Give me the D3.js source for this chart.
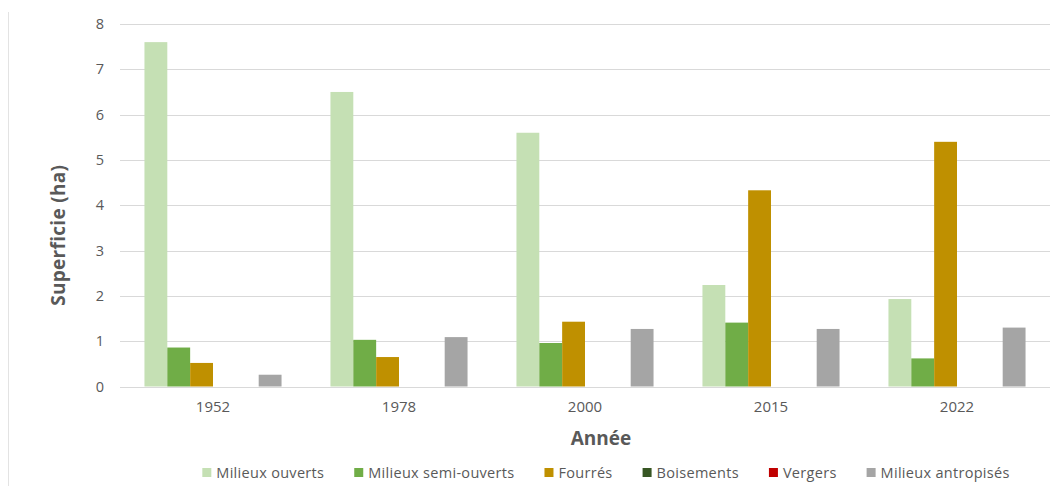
<!DOCTYPE html>
<html>
<head>
<meta charset="utf-8">
<script src="https://cdn.jsdelivr.net/npm/d3@7"></script>
<style>
  html, body { margin: 0; padding: 0; background: #ffffff; }
  svg { display: block; font-family: "Open Sans", "Noto Sans", sans-serif; }
</style>
</head>
<body>
<svg id="chart" width="1053" height="486"></svg>
<script>
// Surface (ha) of each habitat type per survey year
const years = ["1952", "1978", "2000", "2015", "2022"];
const seriesNames = ["Milieux ouverts", "Milieux semi-ouverts", "Fourrés", "Boisements", "Vergers", "Milieux antropisés"];
const seriesColors = ["#C5E0B4", "#70AD47", "#BF9000", "#375623", "#C00000", "#A5A5A5"];
const milieuxOuverts     = [7.6, 6.5, 5.6, 2.24, 1.93];
const milieuxSemiOuverts = [0.86, 1.03, 0.96, 1.41, 0.62];
const fourres            = [0.52, 0.65, 1.43, 4.33, 5.40];
const boisements         = [0, 0, 0, 0, 0];
const vergers            = [0, 0, 0, 0, 0];
const milieuxAntropises  = [0.26, 1.09, 1.27, 1.27, 1.30];
const yTicks = [0, 1, 2, 3, 4, 5, 6, 7, 8];
const yTitle = "Superficie (ha)";
const xTitle = "Année";

const seriesValues = [milieuxOuverts, milieuxSemiOuverts, fourres, boisements, vergers, milieuxAntropises];

const svg = d3.select("#chart");
const fontFamily = "'Open Sans', 'Noto Sans', sans-serif";
const textColor = "#595959";
const gridColor = "#D9D9D9";

const plot = { left: 120, right: 1050, top: 24, bottom: 386.5 };

const x0 = d3.scaleBand()
  .domain(years)
  .range([plot.left, plot.right])
  .paddingInner(0.263)
  .paddingOuter(0.1315);

const x1 = d3.scaleBand()
  .domain(seriesNames)
  .range([0, x0.bandwidth()]);

const y = d3.scaleLinear()
  .domain([0, 8])
  .range([plot.bottom, plot.top]);

// Outer frame edge on the left
svg.append("line")
  .attr("x1", 8.5).attr("x2", 8.5)
  .attr("y1", 12).attr("y2", 486)
  .attr("stroke", "#E3E3E3").attr("stroke-width", 1);

// Horizontal gridlines and value labels
const yAxis = d3.axisLeft(y)
  .tickValues(yTicks)
  .tickSize(-(plot.right - plot.left))
  .tickPadding(16)
  .tickFormat(d3.format("d"));

const gy = svg.append("g")
  .attr("transform", `translate(${plot.left},0)`)
  .call(yAxis);
gy.select(".domain").remove();
gy.selectAll(".tick line")
  .attr("stroke", gridColor)
  .attr("stroke-width", 1)
  .attr("shape-rendering", "crispEdges");
gy.selectAll(".tick text")
  .attr("fill", textColor)
  .style("font-family", fontFamily)
  .style("font-size", "14.5px");

// Bars
const groups = svg.append("g")
  .selectAll("g")
  .data(years)
  .join("g")
  .attr("transform", d => `translate(${x0(d)},0)`);

groups.selectAll("rect")
  .data((yr, i) => seriesNames.map((name, s) => ({ name, color: seriesColors[s], value: seriesValues[s][i] })))
  .join("rect")
  .attr("x", d => x1(d.name))
  .attr("width", x1.bandwidth())
  .attr("y", d => y(d.value))
  .attr("height", d => y(0) - y(d.value))
  .attr("fill", d => d.color);

// Category axis labels
const xAxis = d3.axisBottom(x0).tickSize(0).tickPadding(15);
const gx = svg.append("g")
  .attr("transform", `translate(0,${plot.bottom})`)
  .call(xAxis);
gx.select(".domain").remove();
gx.selectAll(".tick text")
  .attr("fill", textColor)
  .style("font-family", fontFamily)
  .style("font-size", "15px");

// Axis titles
svg.append("text")
  .attr("transform", `translate(65,${(plot.top + plot.bottom) / 2 + 30}) rotate(-90)`)
  .attr("text-anchor", "middle")
  .attr("fill", textColor)
  .style("font-size", "19px")
  .style("font-weight", "bold")
  .style("letter-spacing", "0.3px")
  .text(yTitle);

svg.append("text")
  .attr("x", 601)
  .attr("y", 445)
  .attr("text-anchor", "middle")
  .attr("fill", textColor)
  .style("font-size", "19px")
  .style("font-weight", "bold")
  .text(xTitle);

// Legend, laid out left to right and centred under the plot
const legend = svg.append("g");
const markerSize = 9;
const markerGap = 5;
const itemGap = 30;
const items = legend.selectAll("g")
  .data(seriesNames.map((name, s) => ({ name, color: seriesColors[s] })))
  .join("g");
items.append("rect")
  .attr("width", markerSize)
  .attr("height", markerSize)
  .attr("y", 468)
  .attr("fill", d => d.color);
items.append("text")
  .attr("x", markerSize + markerGap)
  .attr("y", 477.5)
  .attr("fill", textColor)
  .style("font-size", "14.5px")
  .style("letter-spacing", "0.3px")
  .text(d => d.name);

let cursor = 0;
const offsets = [];
items.each(function () {
  offsets.push(cursor);
  const w = d3.select(this).select("text").node().getComputedTextLength();
  cursor += markerSize + markerGap + w + itemGap;
});
const totalWidth = cursor - itemGap;
const legendStart = 606 - totalWidth / 2;
items.attr("transform", (d, i) => `translate(${legendStart + offsets[i]},0)`);
</script>
</body>
</html>
